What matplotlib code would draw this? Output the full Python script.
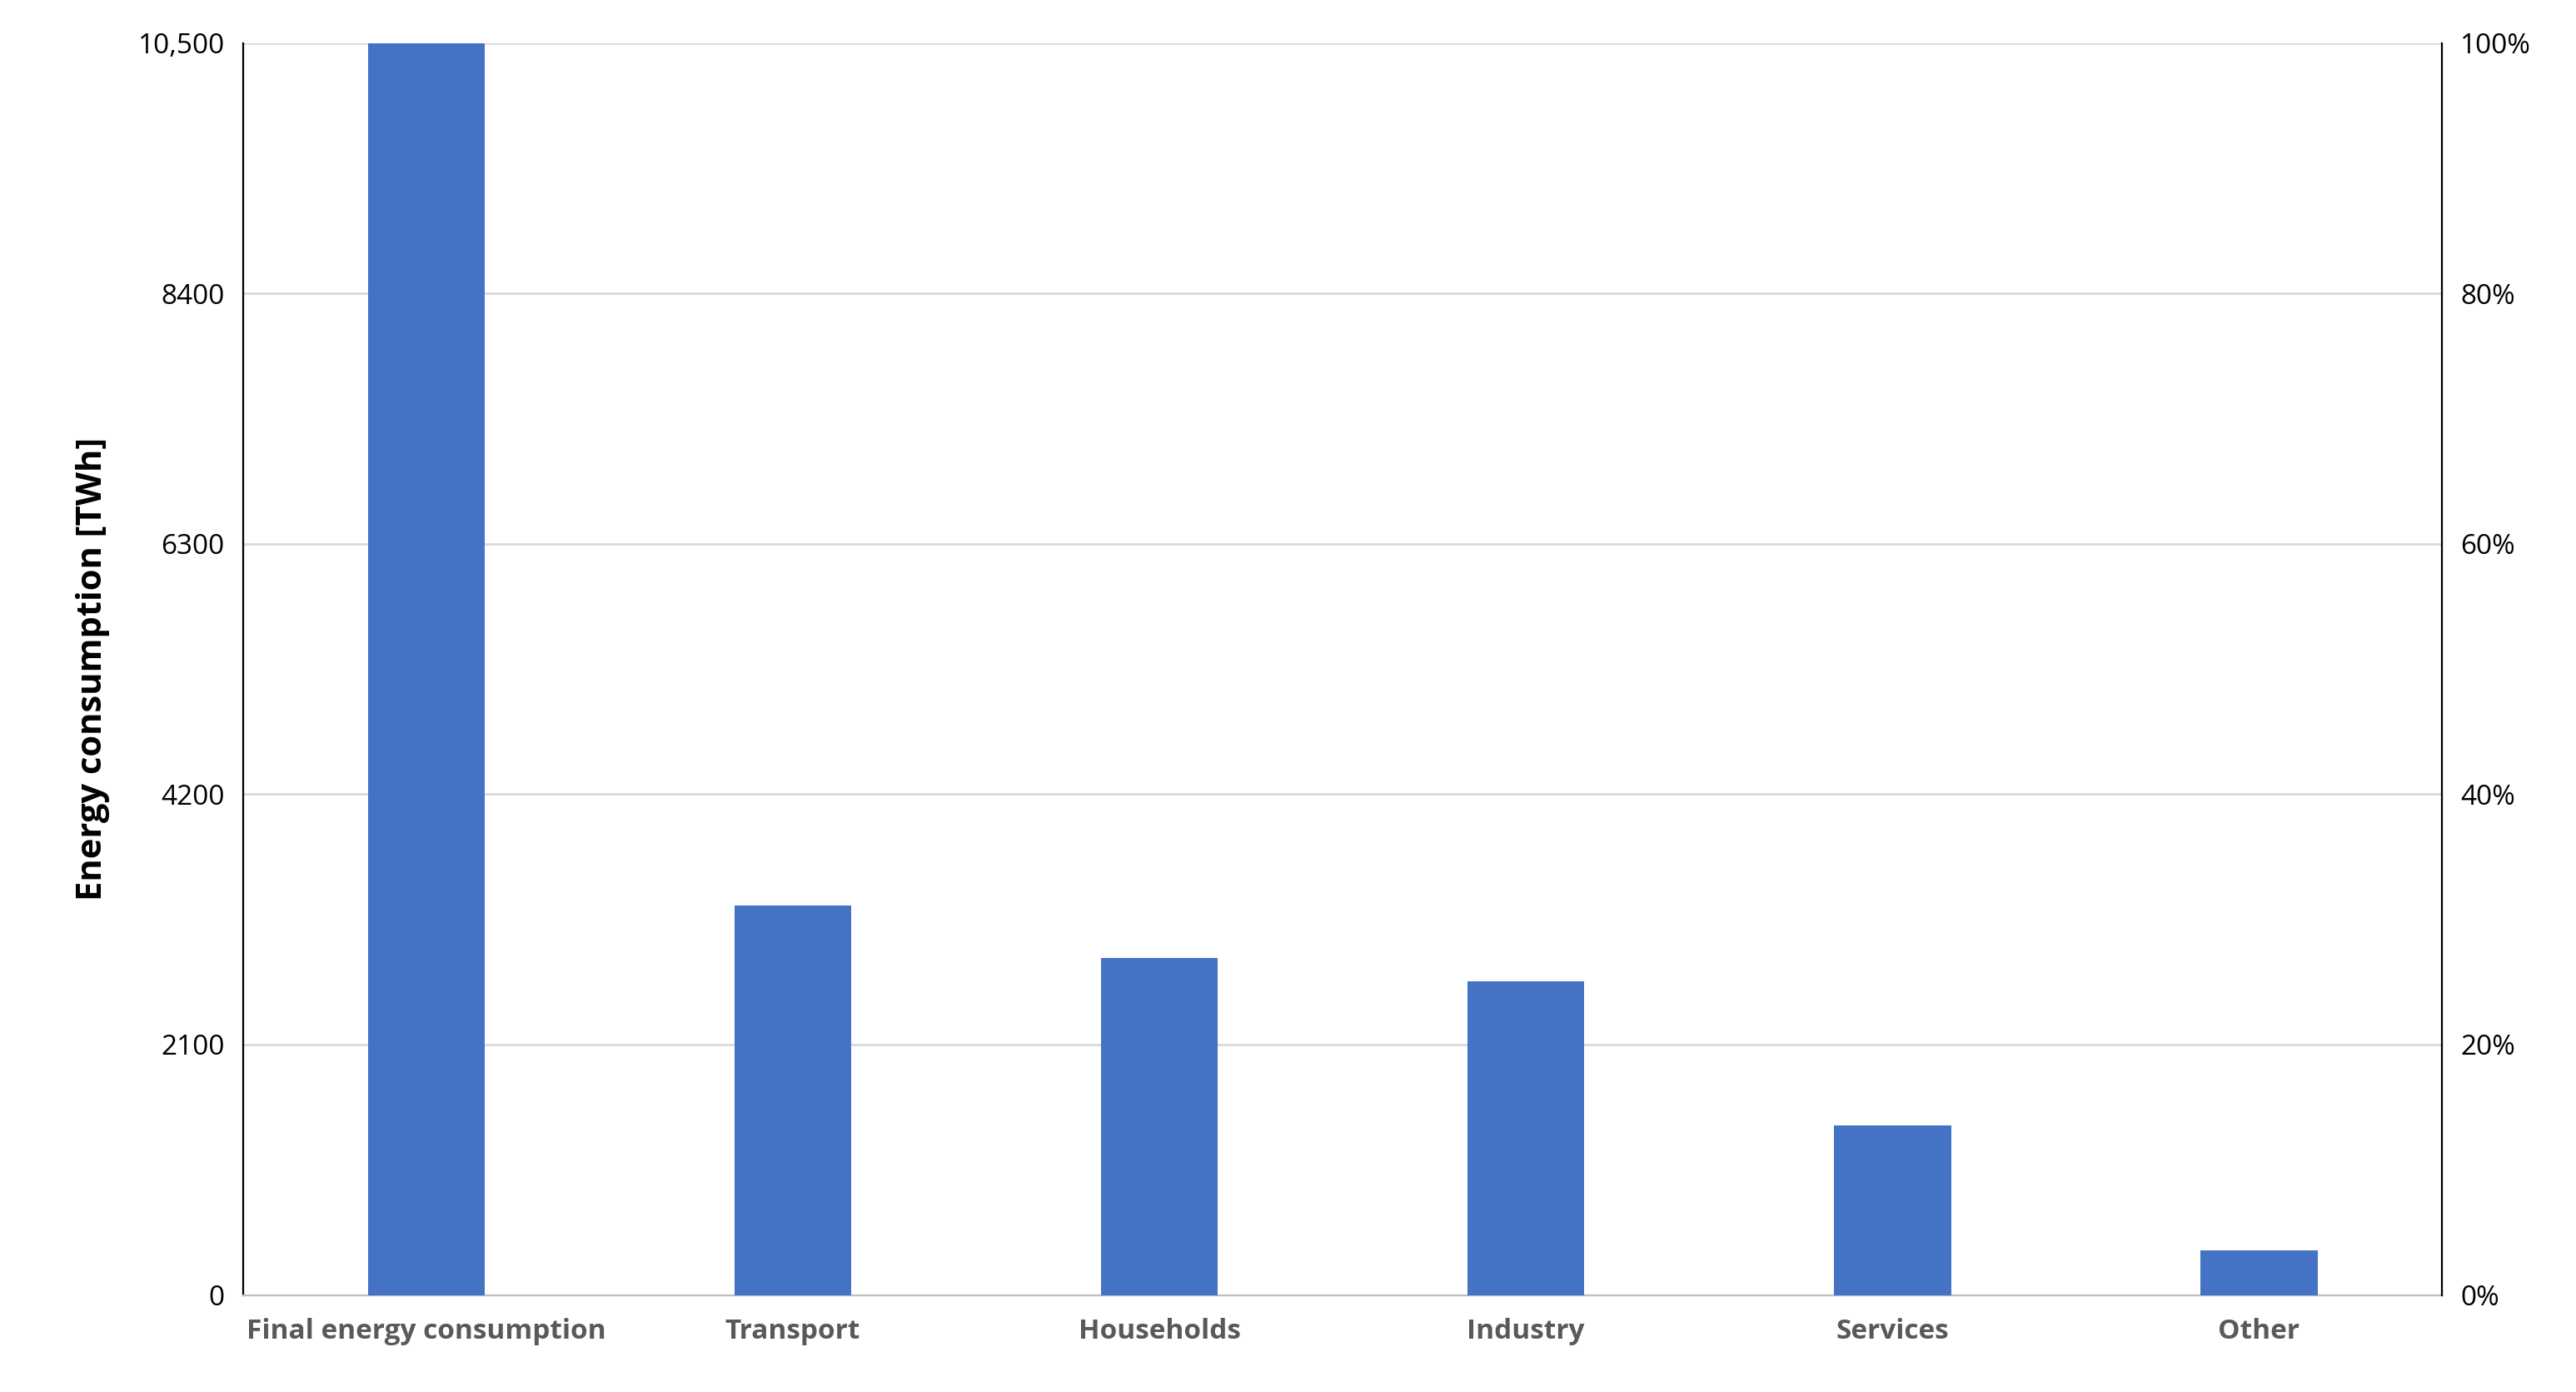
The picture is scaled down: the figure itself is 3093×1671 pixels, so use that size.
import matplotlib.pyplot as plt
from matplotlib.ticker import FuncFormatter

plt.rcParams["font.family"] = ["Open Sans", "DejaVu Sans"]

categories = ["Final energy consumption", "Transport", "Households", "Industry", "Services", "Other"]
values = [10500, 3266, 2825, 2632, 1419, 372]
yticks = [0, 2100, 4200, 6300, 8400, 10500]
ytick_labels = ["0", "2100", "4200", "6300", "8400", "10,500"]

fig = plt.figure(figsize=(15.465, 8.355), dpi=200)
ax = fig.add_axes([0.0944, 0.0697, 0.8536, 0.8993])
x = range(len(categories))
ax.bar(x, values, width=0.32, color="#4472C4", zorder=3)
ax.set_xlim(-0.5, len(categories) - 0.5)
ax.set_ylim(0, 10500)
ax.set_yticks(yticks)
ax.set_yticklabels(ytick_labels, fontsize=12)
ax.set_xticks(list(x))
ax.set_xticklabels(categories, fontsize=12, fontweight="bold", color="#595959")
ax.tick_params(axis="x", length=0, pad=10)
ax.tick_params(axis="y", length=0, pad=8)
ax.grid(axis="y", color="#D9D9D9", linewidth=1, zorder=0)
ax.spines["top"].set_visible(False)
ax.spines["right"].set_visible(False)
ax.spines["bottom"].set_color("#BFBFBF")
ax.spines["left"].set_color("black")
ax.set_ylabel("Energy consumption [TWh]", fontsize=15, fontweight="bold", labelpad=12)

ax2 = ax.twinx()
ax2.set_ylim(0, 1)
ax2.set_yticks([0, 0.2, 0.4, 0.6, 0.8, 1.0])
ax2.yaxis.set_major_formatter(FuncFormatter(lambda v, p: f"{v:.0%}"))
ax2.tick_params(axis="y", length=0, pad=8, labelsize=12)
for s in ["top", "left", "bottom"]:
    ax2.spines[s].set_visible(False)
ax2.spines["right"].set_color("black")

fig.savefig("out.png", dpi=200)
